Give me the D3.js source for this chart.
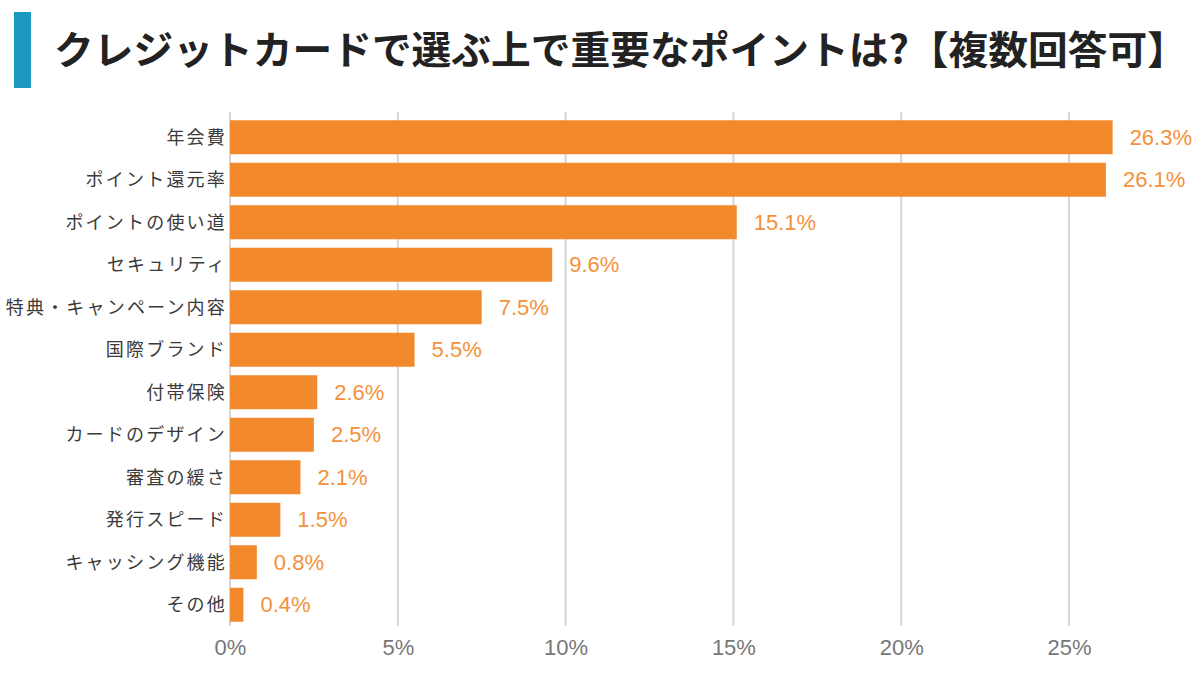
<!DOCTYPE html>
<html><head><meta charset="utf-8">
<script src="https://cdn.jsdelivr.net/npm/d3@7"></script>
<style>body{margin:0;background:#fff;font-family:"Noto Sans CJK JP","Noto Sans",sans-serif;}</style>
</head><body>
<svg id="c" width="1200" height="700"></svg>
<script>
const titleText = "クレジットカードで選ぶ上で重要なポイントは?【複数回答可】";
const categories = ["年会費","ポイント還元率","ポイントの使い道","セキュリティ","特典・キャンペーン内容","国際ブランド","付帯保険","カードのデザイン","審査の緩さ","発行スピード","キャッシング機能","その他"];
const values = [26.3,26.1,15.1,9.6,7.5,5.5,2.6,2.5,2.1,1.5,0.8,0.4];
const tickValues = [0,5,10,15,20,25];

const svg = d3.select("#c");
svg.append("rect").attr("x",14).attr("y",12).attr("width",17).attr("height",76).attr("fill","#1a98bd");
svg.append("text").attr("x",54).attr("y",64).attr("font-size",39).attr("font-weight","bold").attr("fill","#222")
  .attr("textLength",1133).attr("lengthAdjust","spacingAndGlyphs").text(titleText);

const x = d3.scaleLinear().domain([0,25]).range([230,1069]);
const y = d3.scaleBand().domain(categories).range([116,626]).paddingInner(0.2).paddingOuter(0.1);

const g = svg.append("g");
g.selectAll("line.grid").data(tickValues).join("line").attr("class","grid")
  .attr("x1",d=>x(d)).attr("x2",d=>x(d)).attr("y1",112).attr("y2",626)
  .attr("stroke","#d6d6d6").attr("stroke-width",2);

g.selectAll("rect.bar").data(values).join("rect").attr("class","bar")
  .attr("x",x(0)).attr("y",(d,i)=>y(categories[i])).attr("width",d=>x(d)-x(0)).attr("height",y.bandwidth())
  .attr("fill","#f28a2d");

g.selectAll("text.val").data(values).join("text").attr("class","val")
  .attr("x",d=>x(d)+17).attr("y",(d,i)=>y(categories[i])+y.bandwidth()/2).attr("dy","0.35em")
  .attr("font-family","Liberation Sans, Arial, sans-serif").attr("font-size",22).attr("fill","#f4913a")
  .text(d=>d.toFixed(1)+"%");

g.selectAll("text.cat").data(categories).join("text").attr("class","cat")
  .attr("x",227).attr("y",d=>y(d)+y.bandwidth()/2).attr("dy","0.35em").attr("text-anchor","end")
  .attr("font-size",18).attr("letter-spacing",2.2).attr("fill","#3a3a3a").text(d=>d);

const axis = d3.axisBottom(x).tickValues(tickValues).tickFormat(d=>d+"%").tickSize(0).tickPadding(0);
const ax = svg.append("g").attr("transform","translate(0,639)").call(axis);
ax.select(".domain").remove();
ax.selectAll("text").attr("font-family","Liberation Sans, Arial, sans-serif").attr("font-size",22).attr("fill","#777").attr("dy","0.71em");
</script>
</body></html>
